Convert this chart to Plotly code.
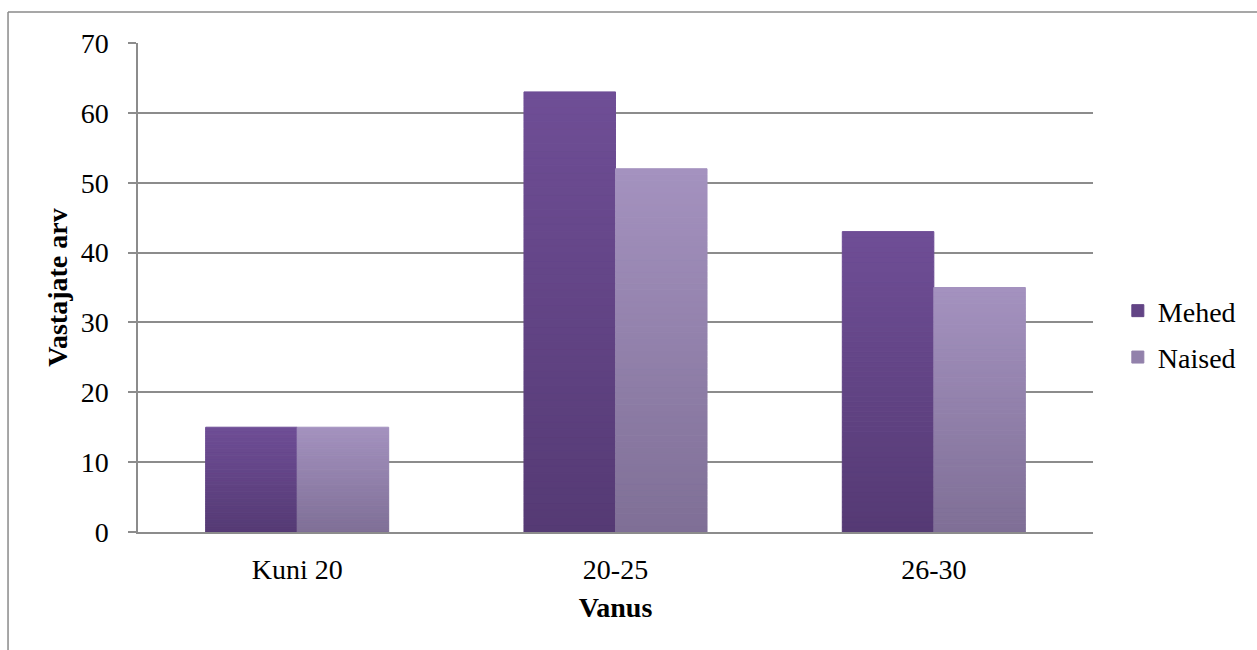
import plotly.graph_objects as go

# Respondents by age group and gender
categories = ["Kuni 20", "20-25", "26-30"]
mehed = [15, 63, 43]
naised = [15, 52, 35]

# Vertical gradient endpoints (top colour, bottom colour) for each series
gradients = {
    "Mehed": ((0x6f, 0x4e, 0x96), (0x55, 0x3a, 0x74)),
    "Naised": ((0xa4, 0x92, 0xbf), (0x7f, 0x6f, 0x96)),
}

N_SLICES = 60
BAR_W = 0.2875
GRID = "#8c8c8c"
FONT = "Liberation Serif"
FS = 28


def mix(top, bottom, t):
    # t = 0 at bottom of the bar, 1 at its top
    return "rgb({},{},{})".format(*[round(b + (a - b) * t) for a, b in zip(top, bottom)])


fig = go.Figure()
x_idx = list(range(len(categories)))

for name, values, offset in [("Mehed", mehed, -BAR_W), ("Naised", naised, 0.0)]:
    top, bottom = gradients[name]
    for k in range(N_SLICES):
        t = (k + 0.5) / N_SLICES
        col = mix(top, bottom, t)
        fig.add_trace(go.Bar(
            x=x_idx,
            y=[v / N_SLICES for v in values],
            base=[v * k / N_SLICES for v in values],
            offset=offset,
            width=BAR_W,
            marker=dict(color=col, line=dict(color=col, width=1)),
            name=name,
            legendgroup=name,
            showlegend=(k == N_SLICES // 2),
            hoverinfo="skip",
        ))

fig.update_layout(
    width=1257,
    height=650,
    barmode="overlay",
    plot_bgcolor="white",
    paper_bgcolor="white",
    margin=dict(l=138, r=164, t=43, b=118),
    font=dict(family=FONT, size=FS, color="black"),
    legend=dict(
        x=1.026, y=0.405, xanchor="left", yanchor="middle",
        font=dict(family=FONT, size=FS, color="black"),
        tracegroupgap=7,
        bgcolor="rgba(0,0,0,0)",
    ),
    xaxis=dict(
        tickmode="array",
        tickvals=x_idx,
        ticktext=categories,
        range=[-0.5, len(categories) - 0.5],
        showgrid=False,
        showline=True,
        linecolor=GRID,
        linewidth=1.5,
        ticks="",
        ticklabelstandoff=12,
        tickfont=dict(family=FONT, size=FS),
        title=dict(text="<b>Vanus</b>", font=dict(family=FONT, size=FS), standoff=13),
        zeroline=False,
    ),
    yaxis=dict(
        range=[0, 70],
        dtick=10,
        showgrid=True,
        gridcolor=GRID,
        gridwidth=1.5,
        showline=True,
        linecolor=GRID,
        linewidth=1.5,
        ticks="outside",
        ticklen=8,
        tickcolor=GRID,
        tickwidth=1.5,
        ticklabelstandoff=14,
        tickfont=dict(family=FONT, size=FS),
        title=dict(text="<b>Vastajate arv</b>", font=dict(family=FONT, size=FS), standoff=5),
        zeroline=False,
    ),
    shapes=[
        dict(type="line", xref="paper", yref="paper",
             x0=-0.1361, x1=1.2, y0=1.0634, y1=1.0634,
             line=dict(color="#8a8a8a", width=1.5)),
        dict(type="line", xref="paper", yref="paper",
             x0=-0.1361, x1=-0.1361, y0=1.0634, y1=-0.3,
             line=dict(color="#8a8a8a", width=1.5)),
    ],
)

fig.write_html("out.html")
